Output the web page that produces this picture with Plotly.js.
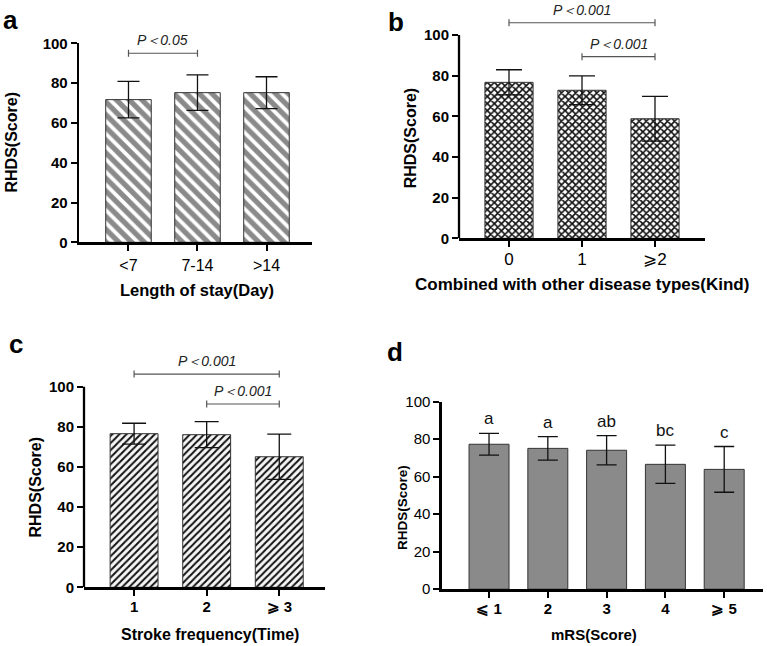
<!DOCTYPE html>
<html>
<head>
<meta charset="utf-8">
<script src="https://cdn.plot.ly/plotly-3.0.1.min.js"></script>
<style>html,body{margin:0;padding:0;background:#fff;}#chart{width:767px;height:646px;}</style>
</head>
<body>
<div id="chart"></div>
<script>
// ---------- DATA ----------
const catsA = ['<7', '7-14', '>14'];
const meanA = [71.7, 75.2, 75.2];
const sdA = [9.2, 8.9, 8.0];
const bracketFromA = ['<7'];
const bracketToA = ['7-14'];
const bracketYA = [95];
const bracketTextA = ['P＜0.05'];

const catsB = ['0', '1', '⩾2'];
const meanB = [76.7, 72.8, 58.8];
const sdB = [6.2, 7.1, 11.0];
const bracketFromB = ['0', '1'];
const bracketToB = ['⩾2', '⩾2'];
const bracketYB = [106, 89.3];
const bracketTextB = ['P＜0.001', 'P＜0.001'];

const catsC = ['1', '2', '⩾ 3'];
const meanC = [76.6, 76.1, 65.1];
const sdC = [5.2, 6.5, 11.3];
const bracketFromC = ['1', '2'];
const bracketToC = ['⩾ 3', '⩾ 3'];
const bracketYC = [106.3, 91.4];
const bracketTextC = ['P＜0.001', 'P＜0.001'];

const catsD = ['⩽ 1', '2', '3', '4', '⩾ 5'];
const meanD = [77.3, 75.1, 74.1, 66.6, 63.9];
const sdD = [5.8, 6.3, 7.8, 10.2, 12.2];
const lettersD = ['a', 'a', 'ab', 'bc', 'c'];

// ---------- STYLE / LAYOUT ----------
const FONT = 'Liberation Sans, Arial, sans-serif';
const W = 767, H = 646;
const px = v => v / W;
const py = v => 1 - v / H;

const panels = [
  { id: '', cats: catsA, mean: meanA, sd: sdA, from: bracketFromA, to: bracketToA, by: bracketYA, bt: bracketTextA,
    pattern: { shape: '\\', bgcolor: '#8a8a8a', fgcolor: '#ffffff', size: 9, solidity: 0.42, fillmode: 'replace' },
    color: '#8a8a8a', width: 0.66, cap: 11, standoff: 1,
    xdom: [79, 311.7], ydom: [242.3, 43.3], xr: [-0.717, 2.655], ymax: 100, axisShape: false,
    yfont: { size: 15, weight: 'bold' }, xfont: { size: 16, weight: 'normal' } },
  { id: '2', cats: catsB, mean: meanB, sd: sdB, from: bracketFromB, to: bracketToB, by: bracketYB, bt: bracketTextB,
    pattern: { shape: 'x', bgcolor: '#ffffff', fgcolor: '#111111', size: 5, solidity: 0.55, fillmode: 'replace' },
    color: '#777', width: 0.66, cap: 13, standoff: -2,
    xdom: [459, 705], ydom: [238.3, 18.7], xr: [-0.685, 2.685], ymax: 108, axisShape: true,
    yfont: { size: 15, weight: 'bold' }, xfont: { size: 17, weight: 'normal' } },
  { id: '3', cats: catsC, mean: meanC, sd: sdC, from: bracketFromC, to: bracketToC, by: bracketYC, bt: bracketTextC,
    pattern: { shape: '/', bgcolor: '#f6f6f6', fgcolor: '#111111', size: 5, solidity: 0.4, fillmode: 'replace' },
    color: '#999', width: 0.66, cap: 12, standoff: -2,
    xdom: [84, 325], ydom: [587.3, 370.7], xr: [-0.69, 2.63], ymax: 108, axisShape: true,
    yfont: { size: 15, weight: 'bold' }, xfont: { size: 15, weight: 'bold' } },
  { id: '4', cats: catsD, mean: meanD, sd: sdD, from: [], to: [], by: [], bt: [],
    pattern: null,
    color: '#8a8a8a', width: 0.68, cap: 10, standoff: -2,
    xdom: [441.7, 763], ydom: [589.2, 401.7], xr: [-0.805, 4.66], ymax: 100, axisShape: false,
    yfont: { size: 15, weight: 'normal' }, xfont: { size: 15, weight: 'bold' } }
];

const traces = [];
const layout = {
  width: W, height: H,
  margin: { l: 0, r: 0, t: 0, b: 0 },
  paper_bgcolor: '#ffffff', plot_bgcolor: 'rgba(0,0,0,0)',
  showlegend: false,
  font: { family: FONT, color: '#000' },
  shapes: [], annotations: []
};

panels.forEach(p => {
  const xa = 'x' + p.id, ya = 'y' + p.id;
  const idx = p.cats.map((_, i) => i);
  const marker = { color: p.color, line: { color: '#333', width: 1 } };
  if (p.pattern) marker.pattern = p.pattern;
  traces.push({
    type: 'bar', x: idx, y: p.mean, xaxis: xa, yaxis: ya, width: p.width,
    marker: marker,
    error_y: { type: 'data', array: p.sd, visible: true, color: '#111', thickness: 1.3, width: p.cap },
    hoverinfo: 'skip'
  });
  // significance brackets
  p.from.forEach((f, k) => {
    const x0 = p.cats.indexOf(f), x1 = p.cats.indexOf(p.to[k]);
    traces.push({
      type: 'scatter', mode: 'lines+markers', xaxis: xa, yaxis: ya,
      x: [x0, x1], y: [p.by[k], p.by[k]], cliponaxis: false,
      line: { color: '#555', width: 1.2 },
      marker: { symbol: 'line-ns-open', size: 5, color: '#555', line: { color: '#555', width: 1.2 } },
      hoverinfo: 'skip'
    });
    layout.annotations.push({
      xref: xa, yref: ya, x: (x0 + x1) / 2, y: p.by[k], yanchor: 'bottom', yshift: 3,
      text: p.bt[k], showarrow: false,
      font: { family: FONT, size: 14, style: 'italic', color: '#222' }
    });
  });
  const xk = 'xaxis' + p.id, yk = 'yaxis' + p.id;
  layout[xk] = {
    domain: [px(p.xdom[0]), px(p.xdom[1])], anchor: ya, range: p.xr,
    tickmode: 'array', tickvals: idx, ticktext: p.cats,
    showline: true, linecolor: '#000', linewidth: 2.3,
    ticks: 'outside', ticklen: 6, tickwidth: 2, tickcolor: '#000',
    showgrid: false, zeroline: false, fixedrange: true, ticklabelstandoff: p.standoff,
    tickfont: Object.assign({ family: FONT, color: '#000' }, p.xfont)
  };
  layout[yk] = {
    domain: [py(p.ydom[0]), py(p.ydom[1])], anchor: xa, range: [0, p.ymax],
    tickmode: 'array', tickvals: [0, 20, 40, 60, 80, 100],
    showline: !p.axisShape, linecolor: '#000', linewidth: 2.3,
    ticks: 'outside', ticklen: 6, tickwidth: 2, tickcolor: '#000',
    showgrid: false, zeroline: false, fixedrange: true,
    tickfont: Object.assign({ family: FONT, color: '#000' }, p.yfont)
  };
  if (p.axisShape) {
    layout.shapes.push({
      type: 'line', xref: xa + ' domain', x0: 0, x1: 0, yref: ya, y0: 0, y1: 100,
      line: { color: '#000', width: 2.3 }, layer: 'above'
    });
  }
});

// letters above bars in panel d
meanD.forEach((m, i) => {
  layout.annotations.push({
    xref: 'x4', yref: 'y4', x: i, y: m + sdD[i], yanchor: 'bottom', yshift: 3,
    text: lettersD[i], showarrow: false, font: { family: FONT, size: 17, color: '#111' }
  });
});

// panel letters and axis titles
const txt = (x, y, text, size, opts) => Object.assign({
  xref: 'paper', yref: 'paper', x: px(x), y: py(y), xanchor: 'center', yanchor: 'middle',
  text: text, showarrow: false, font: { family: FONT, size: size, weight: 'bold', color: '#000' }
}, opts || {});

layout.annotations.push(
  txt(10, 20, 'a', 26),
  txt(396, 22, 'b', 26),
  txt(16, 344, 'c', 26),
  txt(395, 352, 'd', 26),
  txt(196.5, 290, 'Length of stay(Day)', 16.5),
  txt(581.5, 284, 'Combined with other disease types(Kind)', 17),
  txt(210, 634, 'Stroke frequency(Time)', 16),
  txt(594, 634, 'mRS(Score)', 15),
  txt(11, 142.5, 'RHDS(Score)', 16, { textangle: -90 }),
  txt(410, 138.3, 'RHDS(Score)', 16, { textangle: -90 }),
  txt(35, 487.5, 'RHDS(Score)', 16, { textangle: -90 }),
  txt(402.5, 507.5, 'RHDS(Score)', 13.5, { textangle: -90 })
);

Plotly.newPlot('chart', traces, layout, { staticPlot: true, displayModeBar: false });
</script>
</body>
</html>
